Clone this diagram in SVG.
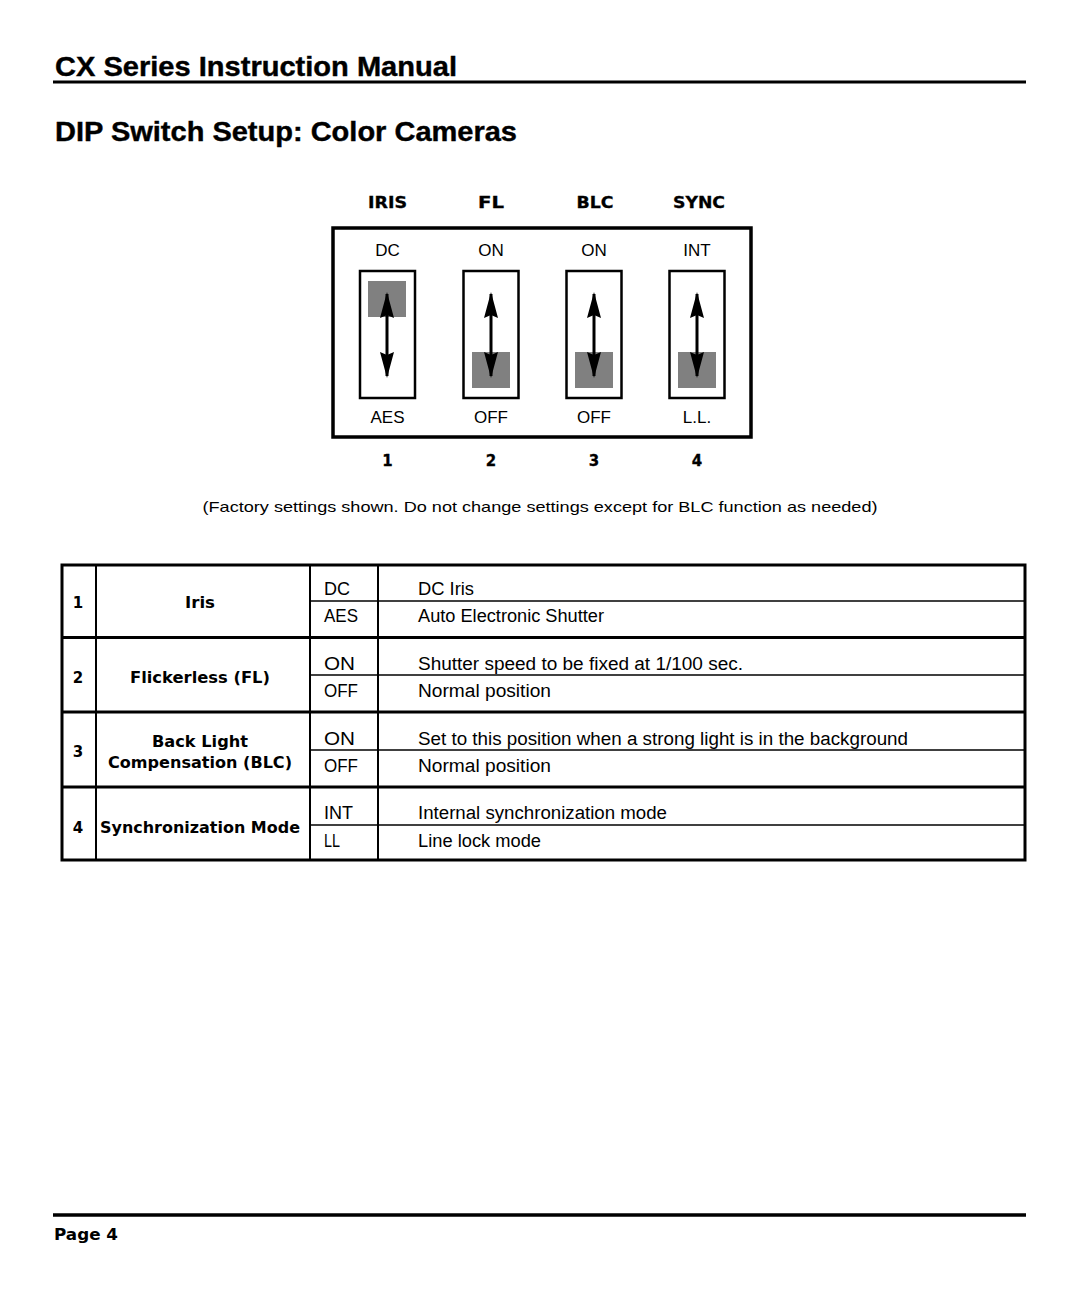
<svg xmlns="http://www.w3.org/2000/svg" width="1080" height="1296" viewBox="0 0 1080 1296">
<style>
.title{font-family:"Liberation Sans",Arial,sans-serif;font-weight:bold;font-size:27px;fill:#000;stroke:#000;stroke-width:0.4}
.hdr{font-family:"DejaVu Sans","Liberation Sans",sans-serif;font-weight:bold;font-size:15px;fill:#000;stroke:#000;stroke-width:0.3}
.pos{font-family:"Liberation Sans",Arial,sans-serif;font-size:17px;fill:#000}
.cap{font-family:"Liberation Sans",Arial,sans-serif;font-size:15px;fill:#000}
.lbl{font-family:"DejaVu Sans","Liberation Sans",sans-serif;font-weight:bold;font-size:15px;fill:#000}
.body{font-family:"Liberation Sans",Arial,sans-serif;font-size:18px;fill:#000}
.sw{fill:#fff;stroke:#000;stroke-width:2.5}
.knob{fill:#808080}
.arr{stroke:#000;stroke-width:3;marker-start:url(#ah);marker-end:url(#ah)}
.thin{stroke:#000;stroke-width:1.5}
.mid{stroke:#000;stroke-width:2}
.thick{stroke:#000;stroke-width:3}
</style>
<defs>
<marker id="ah" viewBox="0 0 26 14" refX="24" refY="7" markerWidth="26" markerHeight="14" markerUnits="userSpaceOnUse" orient="auto-start-reverse">
<path d="M0,0 L26,7 L0,14 L3,7 Z" fill="#000"/>
</marker>
</defs>
<rect width="1080" height="1296" fill="#fff"/>

<g id="header">
<text class="title" x="55" y="76" textLength="402" lengthAdjust="spacingAndGlyphs">CX Series Instruction Manual</text>
<line x1="53" y1="82" x2="1026" y2="82" stroke="#000" stroke-width="3"/>
<text class="title" x="55" y="141" textLength="462" lengthAdjust="spacingAndGlyphs">DIP Switch Setup: Color Cameras</text>
</g>

<g id="dip-switch">
<rect x="333" y="228" width="418" height="209" fill="none" stroke="#000" stroke-width="3.5"/>
<text class="hdr" x="387.5" y="208" text-anchor="middle" textLength="39" lengthAdjust="spacingAndGlyphs">IRIS</text>
<text class="hdr" x="491" y="208" text-anchor="middle" textLength="26" lengthAdjust="spacingAndGlyphs">FL</text>
<text class="hdr" x="595" y="208" text-anchor="middle" textLength="37" lengthAdjust="spacingAndGlyphs">BLC</text>
<text class="hdr" x="699" y="208" text-anchor="middle" textLength="52" lengthAdjust="spacingAndGlyphs">SYNC</text>

<text class="pos" x="387.5" y="256" text-anchor="middle">DC</text>
<text class="pos" x="491" y="256" text-anchor="middle">ON</text>
<text class="pos" x="594" y="256" text-anchor="middle">ON</text>
<text class="pos" x="697" y="256" text-anchor="middle">INT</text>

<g id="switch1">
<rect class="sw" x="360" y="271" width="55" height="127"/>
<rect class="knob" x="368" y="281" width="38" height="36"/>
<line class="arr" x1="387" y1="294" x2="387" y2="376"/>
</g>
<g id="switch2">
<rect class="sw" x="463.5" y="271" width="55" height="127"/>
<rect class="knob" x="472" y="352" width="38" height="36"/>
<line class="arr" x1="491" y1="294" x2="491" y2="376"/>
</g>
<g id="switch3">
<rect class="sw" x="566.5" y="271" width="55" height="127"/>
<rect class="knob" x="575" y="352" width="38" height="36"/>
<line class="arr" x1="594" y1="294" x2="594" y2="376"/>
</g>
<g id="switch4">
<rect class="sw" x="669.5" y="271" width="55" height="127"/>
<rect class="knob" x="678" y="352" width="38" height="36"/>
<line class="arr" x1="697" y1="294" x2="697" y2="376"/>
</g>

<text class="pos" x="387.5" y="423" text-anchor="middle">AES</text>
<text class="pos" x="491" y="423" text-anchor="middle">OFF</text>
<text class="pos" x="594" y="423" text-anchor="middle">OFF</text>
<text class="pos" x="697" y="423" text-anchor="middle">L.L.</text>

<text class="hdr" x="387.5" y="466" text-anchor="middle">1</text>
<text class="hdr" x="491" y="466" text-anchor="middle">2</text>
<text class="hdr" x="594" y="466" text-anchor="middle">3</text>
<text class="hdr" x="697" y="466" text-anchor="middle">4</text>
</g>

<text class="cap" x="540" y="512" text-anchor="middle" textLength="675" lengthAdjust="spacingAndGlyphs">(Factory settings shown. Do not change settings except for BLC function as needed)</text>

<g id="table">
<rect x="62" y="565" width="963" height="295" fill="none" stroke="#000" stroke-width="3"/>
<line class="mid" x1="96" y1="565" x2="96" y2="860"/>
<line class="mid" x1="310" y1="565" x2="310" y2="860"/>
<line class="mid" x1="378" y1="565" x2="378" y2="860"/>
<line class="thick" x1="62" y1="637.5" x2="1025" y2="637.5"/>
<line class="thick" x1="62" y1="712" x2="1025" y2="712"/>
<line class="thick" x1="62" y1="787" x2="1025" y2="787"/>
<line class="thin" x1="310" y1="601" x2="1025" y2="601"/>
<line class="thin" x1="310" y1="675" x2="1025" y2="675"/>
<line class="thin" x1="310" y1="750" x2="1025" y2="750"/>
<line class="thin" x1="310" y1="825" x2="1025" y2="825"/>

<text class="lbl" x="78" y="608" text-anchor="middle">1</text>
<text class="lbl" x="78" y="683" text-anchor="middle">2</text>
<text class="lbl" x="78" y="757" text-anchor="middle">3</text>
<text class="lbl" x="78" y="833" text-anchor="middle">4</text>

<text class="lbl" x="200" y="608" text-anchor="middle" textLength="30" lengthAdjust="spacingAndGlyphs">Iris</text>
<text class="lbl" x="200" y="683" text-anchor="middle" textLength="140" lengthAdjust="spacingAndGlyphs">Flickerless (FL)</text>
<text class="lbl" x="200" y="747" text-anchor="middle" textLength="96" lengthAdjust="spacingAndGlyphs">Back Light</text>
<text class="lbl" x="200" y="768" text-anchor="middle" textLength="184" lengthAdjust="spacingAndGlyphs">Compensation (BLC)</text>
<text class="lbl" x="200" y="833" text-anchor="middle" textLength="200" lengthAdjust="spacingAndGlyphs">Synchronization Mode</text>

<text class="body" x="324" y="595" textLength="26" lengthAdjust="spacingAndGlyphs">DC</text>
<text class="body" x="324" y="622" textLength="34" lengthAdjust="spacingAndGlyphs">AES</text>
<text class="body" x="324" y="670" textLength="31" lengthAdjust="spacingAndGlyphs">ON</text>
<text class="body" x="324" y="697" textLength="34" lengthAdjust="spacingAndGlyphs">OFF</text>
<text class="body" x="324" y="745" textLength="31" lengthAdjust="spacingAndGlyphs">ON</text>
<text class="body" x="324" y="772" textLength="34" lengthAdjust="spacingAndGlyphs">OFF</text>
<text class="body" x="324" y="819" textLength="29" lengthAdjust="spacingAndGlyphs">INT</text>
<text class="body" x="324" y="847" textLength="16" lengthAdjust="spacingAndGlyphs">LL</text>

<text class="body" x="418" y="595" textLength="56" lengthAdjust="spacingAndGlyphs">DC Iris</text>
<text class="body" x="418" y="622" textLength="186" lengthAdjust="spacingAndGlyphs">Auto Electronic Shutter</text>
<text class="body" x="418" y="670" textLength="325" lengthAdjust="spacingAndGlyphs">Shutter speed to be fixed at 1/100 sec.</text>
<text class="body" x="418" y="697" textLength="133" lengthAdjust="spacingAndGlyphs">Normal position</text>
<text class="body" x="418" y="745" textLength="490" lengthAdjust="spacingAndGlyphs">Set to this position when a strong light is in the background</text>
<text class="body" x="418" y="772" textLength="133" lengthAdjust="spacingAndGlyphs">Normal position</text>
<text class="body" x="418" y="819" textLength="249" lengthAdjust="spacingAndGlyphs">Internal synchronization mode</text>
<text class="body" x="418" y="847" textLength="123" lengthAdjust="spacingAndGlyphs">Line lock mode</text>
</g>

<g id="footer">
<line x1="53" y1="1215" x2="1026" y2="1215" stroke="#000" stroke-width="3.5"/>
<text class="lbl" x="54" y="1240" font-size="16" textLength="64" lengthAdjust="spacingAndGlyphs">Page 4</text>
</g>
</svg>
